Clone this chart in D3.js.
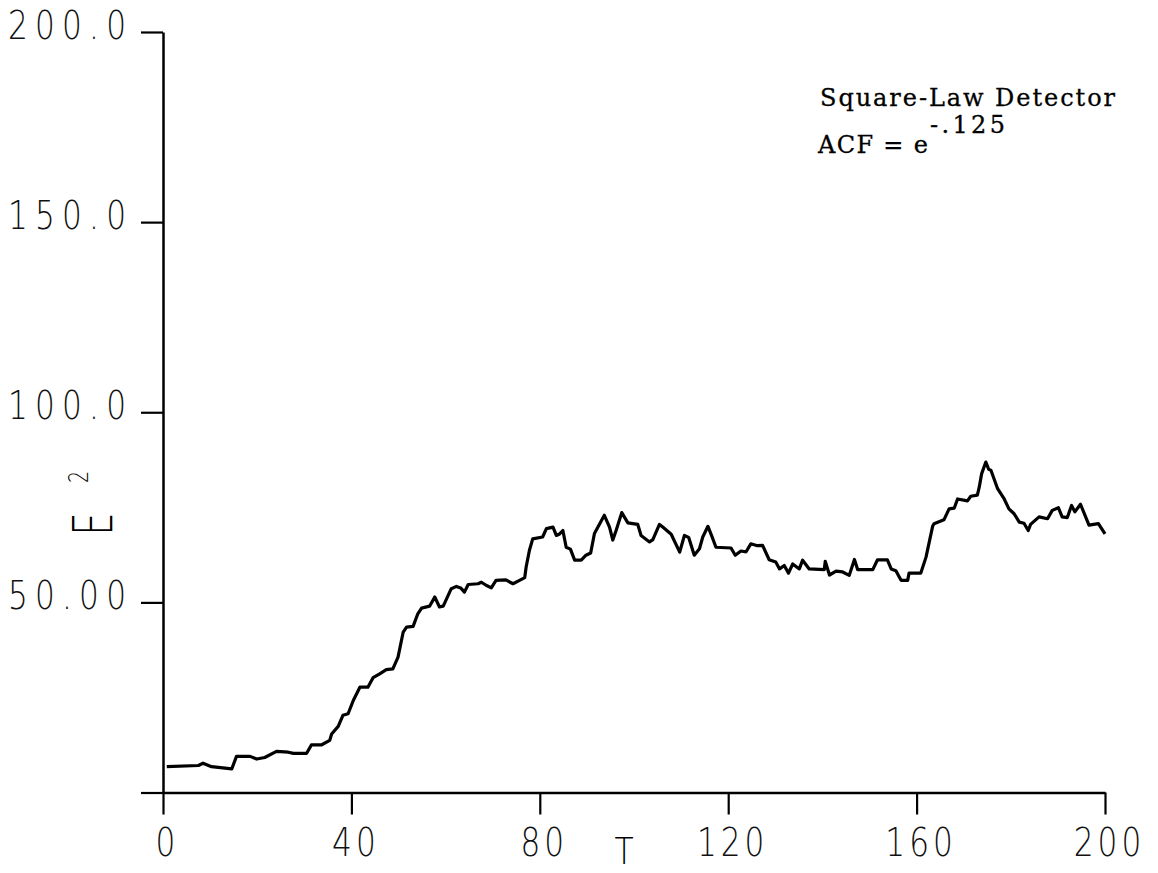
<!DOCTYPE html>
<html>
<head>
<meta charset="utf-8">
<script src="https://cdn.jsdelivr.net/npm/d3@7"></script>
<style>
  body { margin: 0; background: #fff; }
  svg { display: block; }
</style>
</head>
<body>
<svg id="drawing_region"></svg>
<script>
// T values
const tValues = [
    0.8, 7.5, 8.5, 10.3, 14.6, 15.6, 18.5, 19.9, 21.6, 24.1, 26.6, 27.7, 30.5, 31.5, 33.6,
    35.4, 35.8, 37.2, 38.2, 39.3, 40.4, 41.8, 43.5, 44.6, 46.0, 47.4, 48.8, 49.9, 51.0, 51.7,
    53.1, 54.1, 54.9, 56.6, 57.7, 58.7, 59.5, 61.2, 62.3, 63.2, 64.0, 64.8, 66.9, 67.6, 68.6,
    69.7, 70.7, 72.8, 74.3, 75.7, 76.8, 77.1, 77.8, 78.5, 80.6, 81.4, 82.8, 83.5, 84.2, 84.9,
    85.6, 86.5, 87.4, 88.8, 89.8, 90.8, 91.6, 93.7, 94.8, 95.5, 96.2, 97.4, 98.7, 100.8, 101.5,
    103.3, 104.0, 105.4, 106.1, 107.9, 109.7, 110.7, 111.6, 112.8, 113.9, 114.6, 115.7, 116.5, 117.4, 120.6,
    121.5, 122.7, 123.8, 124.8, 126.2, 127.3, 128.7, 130.1, 130.9, 131.9, 132.8, 133.7, 135.1, 135.8, 137.2,
    140.4, 140.6, 141.5, 142.9, 144.3, 145.7, 146.8, 147.5, 150.7, 151.7, 153.8, 154.6, 155.6, 156.7, 158.1,
    158.4, 160.9, 162.0, 163.4, 163.7, 165.8, 166.9, 168.0, 168.7, 170.8, 171.5, 172.9, 173.3, 173.8, 174.7,
    175.3, 175.8, 177.2, 178.6, 179.6, 180.7, 181.8, 182.8, 183.7, 184.2, 186.0, 187.8, 188.8, 190.1, 190.9,
    192.0, 192.9, 193.6, 194.8, 196.6, 198.6, 200.0
];
// E^2 values at those T
const eValues = [
    6.8, 7.1, 7.7, 6.8, 6.2, 9.5, 9.5, 8.8, 9.2, 10.8, 10.6, 10.3, 10.3, 12.5, 12.5,
    13.7, 15.4, 17.4, 20.3, 20.7, 24.2, 27.7, 27.7, 30.2, 31.2, 32.3, 32.5, 35.6, 42.2, 43.5,
    43.7, 47.0, 48.5, 49.0, 51.4, 48.8, 49.0, 53.6, 54.2, 53.8, 52.7, 54.7, 54.9, 55.3, 54.5,
    53.8, 55.8, 55.9, 54.9, 55.8, 56.5, 59.3, 63.7, 66.7, 67.2, 69.4, 69.8, 67.6, 68.0, 68.9,
    64.5, 64.0, 61.1, 61.1, 62.4, 63.0, 68.1, 72.9, 69.8, 66.4, 68.9, 73.6, 70.9, 70.5, 67.6,
    65.9, 66.5, 70.5, 69.8, 67.9, 63.2, 67.6, 67.1, 62.4, 64.1, 67.2, 70.0, 67.5, 64.5, 64.3,
    62.4, 63.5, 63.3, 65.4, 64.9, 65.0, 61.2, 60.6, 58.8, 59.7, 57.7, 60.1, 58.8, 61.1, 58.8,
    58.6, 60.8, 57.2, 58.2, 58.0, 57.1, 61.3, 58.6, 58.6, 61.2, 61.2, 58.8, 58.3, 55.8, 55.8,
    57.7, 57.7, 61.9, 70.0, 70.7, 71.7, 74.6, 74.8, 77.2, 76.7, 77.9, 78.2, 80.3, 83.8, 86.9,
    85.0, 84.7, 79.9, 77.2, 74.6, 73.3, 71.1, 70.8, 68.9, 70.5, 72.5, 72.0, 74.2, 74.9, 72.5,
    72.3, 75.5, 73.8, 75.8, 70.3, 70.7, 68.0
];

const xTicks = [0, 40, 80, 120, 160, 200];
const yTicks = [0, 50, 100, 150, 200];
const yTickLabels = ['', '50.00', '100.0', '150.0', '200.0'];

const annotationLines = ['Square-Law Detector', 'ACF = e'];
const annotationExponent = '-.125';

const width = 1158, height = 873;
const margin = {top: 32, right: 53, bottom: 80.5, left: 163};
const innerW = width - margin.left - margin.right;
const innerH = height - margin.top - margin.bottom;

const svg = d3.select('#drawing_region')
    .attr('width', width)
    .attr('height', height);

const chart = svg.append('g')
    .attr('transform', `translate(${margin.left}, ${margin.top})`);

const xscale = d3.scaleLinear().domain([0, 200]).range([0, innerW]);
const yscale = d3.scaleLinear().domain([0, 200]).range([innerH, 0]);

const tickFont = '"DejaVu Sans", sans-serif';
const squeeze = 0.8; // plotter digits are narrow

// x axis
const xaxis = d3.axisBottom(xscale)
    .tickValues(xTicks)
    .tickFormat(d3.format('d'))
    .tickSize(22)
    .tickSizeOuter(0)
    .tickPadding(14);

const xg = chart.append('g')
    .attr('transform', `translate(0, ${innerH})`)
    .call(xaxis);

// y axis
const yaxis = d3.axisLeft(yscale)
    .tickValues(yTicks)
    .tickFormat((d, i) => yTickLabels[i])
    .tickSize(22)
    .tickSizeOuter(0)
    .tickPadding(15);

const yg = chart.append('g').call(yaxis);

[xg, yg].forEach(g => {
    g.select('.domain').attr('stroke', '#000').attr('stroke-width', 2.5);
    g.selectAll('.tick line').attr('stroke', '#000').attr('stroke-width', 2.2);
    g.selectAll('.tick text')
        .attr('fill', '#111')
        .style('font-family', tickFont)
        .style('font-weight', 200)
        .style('font-size', '39px');
});
xg.selectAll('.tick text')
    .style('letter-spacing', '5px')
    .attr('transform', `scale(${squeeze}, 1)`)
    .attr('dx', 5);
yg.selectAll('.tick text')
    .style('letter-spacing', '9px')
    .attr('transform', `scale(${squeeze}, 1)`)
    .attr('x', -37 / squeeze + 9)
    .attr('y', -6);

// the trace
const points = tValues.map((t, i) => ({x: t, y: eValues[i]}));
const line = d3.line()
    .x(d => xscale(d.x))
    .y(d => yscale(d.y));

chart.append('path')
    .attr('d', line(points))
    .attr('fill', 'none')
    .attr('stroke', '#000')
    .attr('stroke-width', 3.2)
    .attr('stroke-linejoin', 'round');

// axis titles
svg.append('text')
    .attr('transform', 'translate(624, 864) scale(0.85, 1)')
    .attr('text-anchor', 'middle')
    .style('font-family', tickFont)
    .style('font-weight', 200)
    .style('font-size', '37px')
    .text('T');

svg.append('text')
    .attr('transform', 'translate(92, 524) rotate(-90) scale(0.65, 1)')
    .attr('text-anchor', 'middle')
    .attr('dominant-baseline', 'central')
    .style('font-family', tickFont)
    .style('font-weight', 200)
    .style('font-size', '56px')
    .text('E');

svg.append('text')
    .attr('transform', 'translate(78, 477) rotate(-90) scale(0.7, 1)')
    .attr('text-anchor', 'middle')
    .attr('dominant-baseline', 'central')
    .style('font-family', tickFont)
    .style('font-weight', 200)
    .style('font-size', '27px')
    .text('2');

// annotation, typewriter style
const note = svg.append('text')
    .style('font-family', '"DejaVu Serif", serif')
    .style('font-size', '24px')
    .attr('fill', '#000')
    .attr('stroke', '#000')
    .attr('stroke-width', 0.3);

note.append('tspan').attr('x', 820).attr('y', 106)
    .attr('textLength', 295).attr('lengthAdjust', 'spacing')
    .text(annotationLines[0]);
note.append('tspan').attr('x', 818).attr('y', 153)
    .attr('textLength', 110).attr('lengthAdjust', 'spacing')
    .text(annotationLines[1]);
note.append('tspan').attr('x', 930).attr('y', 133)
    .attr('textLength', 75).attr('lengthAdjust', 'spacing')
    .text(annotationExponent);
</script>
</body>
</html>
